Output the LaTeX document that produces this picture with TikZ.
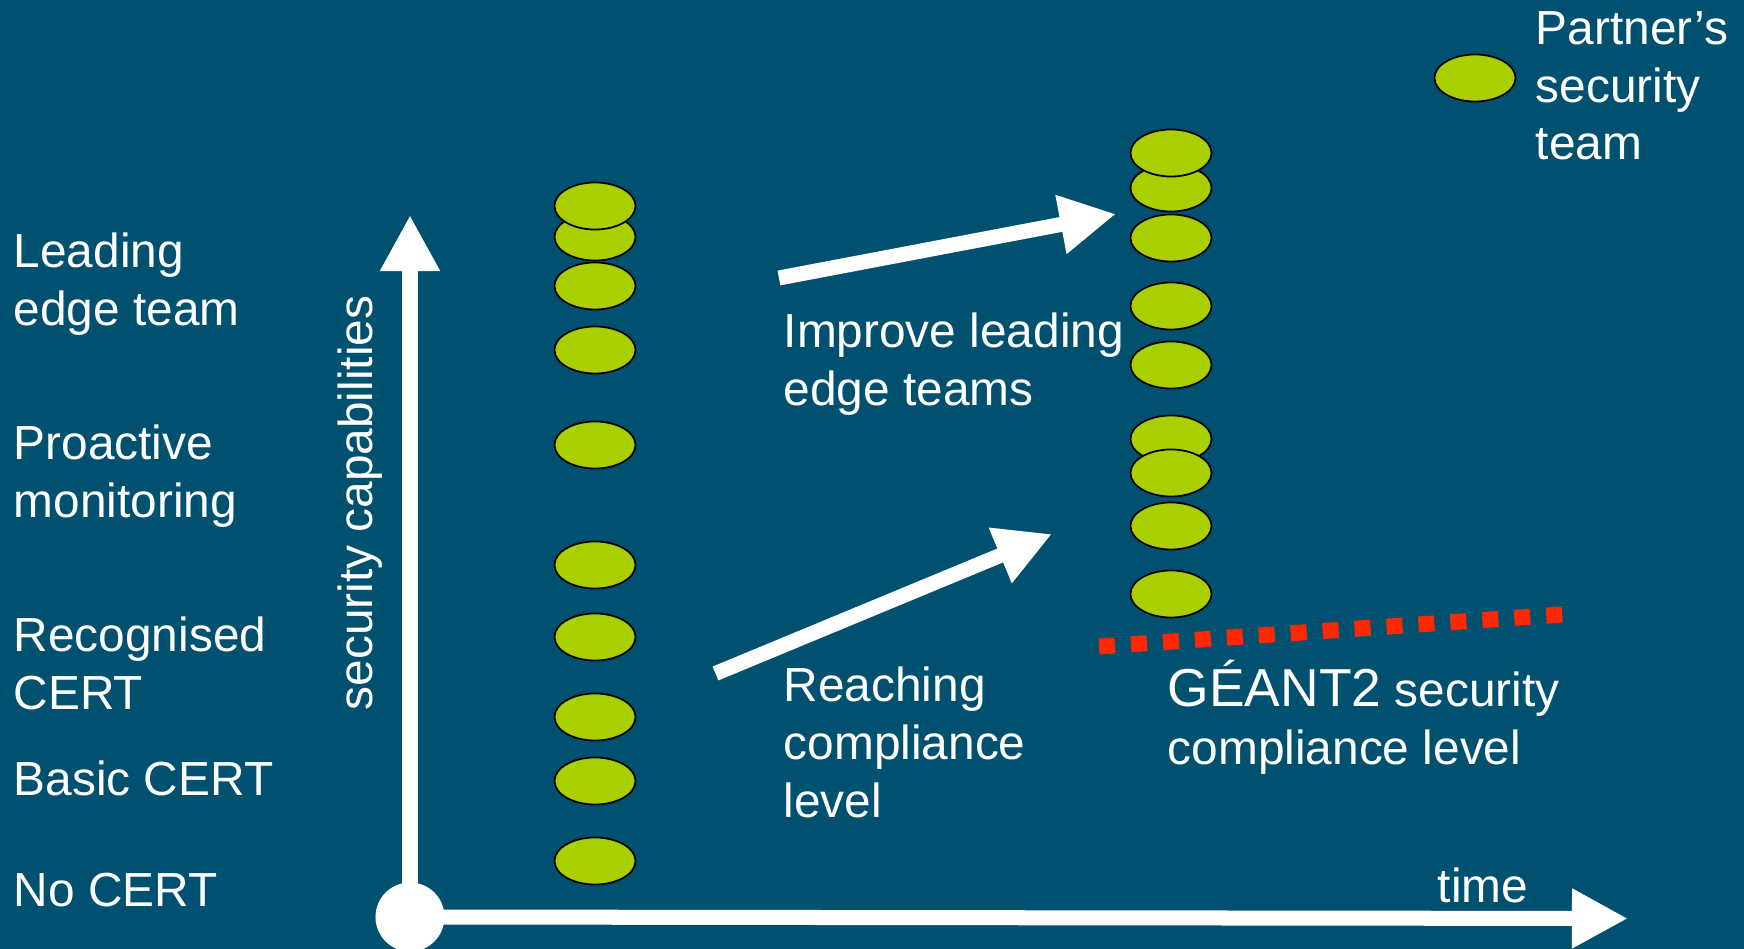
\documentclass[tikz,border=0pt]{standalone}
\usepackage{fontspec}
\setmainfont{Liberation Sans}
\usetikzlibrary{shapes.geometric,arrows.meta}
\definecolor{bg}{RGB}{0,81,112}
\definecolor{teamgreen}{RGB}{170,207,0}
\definecolor{dotred}{RGB}{255,40,0}
\begin{document}
\begin{tikzpicture}[x=0.01cm,y=-0.01cm,
  teamnode/.style={ellipse, draw=black, line width=0.5pt, fill=teamgreen, minimum width=0.81cm, minimum height=0.47cm, inner sep=0pt},
  lbl/.style={text=white, font=\fontsize{13.6pt}{16.4pt}\selectfont, inner sep=0pt, anchor=base west, align=left},
  bigarrow/.style={draw=white, line width=0.15cm, -{Triangle[length=0.56cm,width=0.56cm]}},
  dotline/.style={draw=dotred, line width=0.16cm, dash pattern=on 0.16cm off 0.16cm}]
\fill[bg] (0,0) rectangle (1744,949);
\useasboundingbox (0,0) rectangle (1744,949);

% axes
\coordinate (ytip) at (410,215);
\coordinate (xtip) at (1628,918.5);
\node[circle, fill=white, minimum size=0.69cm, inner sep=0pt] (o) at (410,917) {};
\draw[bigarrow] (o.center) -- (ytip);
\draw[bigarrow] (o.center) -- (xtip);

% left column
\node[teamnode] (l10) at (595,861) {};
\node[teamnode] (l9) at (595,781) {};
\node[teamnode] (l8) at (595,717) {};
\node[teamnode] (l7) at (595,637) {};
\node[teamnode] (l6) at (595,565) {};
\node[teamnode] (l5) at (595,445) {};
\node[teamnode] (l4) at (595,350) {};
\node[teamnode] (l3) at (595,286) {};
\node[teamnode] (l2) at (595,237) {};
\node[teamnode] (l1) at (595,206) {};

% right column
\node[teamnode] (r9) at (1171,594) {};
\node[teamnode] (r8) at (1171,526) {};
\node[teamnode] (r6) at (1171,439) {};
\node[teamnode] (r7) at (1171,473) {};
\node[teamnode] (r5) at (1171,365) {};
\node[teamnode] (r4) at (1171,306) {};
\node[teamnode] (r3) at (1171,238) {};
\node[teamnode] (r2) at (1171,188) {};
\node[teamnode] (r1) at (1171,153) {};

% legend
\node[teamnode] (leg) at (1475,78) {};
\node[lbl] (legt) at (1535,160) {Partner’s\\security\\team};

% diagonal arrows
\coordinate (a1s) at (779,278);
\coordinate (a1e) at (1116,214);
\coordinate (a2s) at (715.5,673.5);
\coordinate (a2e) at (1052,534);
\draw[bigarrow] (a1s) -- (a1e);
\draw[bigarrow] (a2s) -- (a2e);

% compliance line
\coordinate (d1) at (1099,646.5);
\coordinate (d2) at (1563,614.5);
\draw[dotline] (d1) -- (d2);

% labels
\node[lbl] (lead) at (13,325.6) {Leading\\edge team};
\node[lbl] (proact) at (13,517.6) {Proactive\\monitoring};
\node[lbl] (recog) at (13,709.6) {Recognised\\CERT};
\node[lbl] (basic) at (13,796) {Basic CERT};
\node[lbl] (nocert) at (13,907) {No CERT};
\node[lbl, rotate=90, anchor=base] (ylab) at (372,503) {security capabilities};
\node[lbl, anchor=base east] (xlab) at (1529,903) {time};
\node[lbl] (improve) at (783,405.6) {Improve leading\\edge teams};
\node[lbl] (reach) at (783,817.2) {Reaching\\compliance\\level};
\node[lbl] (geant) at (1167,764.6) {{\fontsize{15.2pt}{16.4pt}\selectfont GÉANT2} security\\compliance level};
\end{tikzpicture}
\end{document}
